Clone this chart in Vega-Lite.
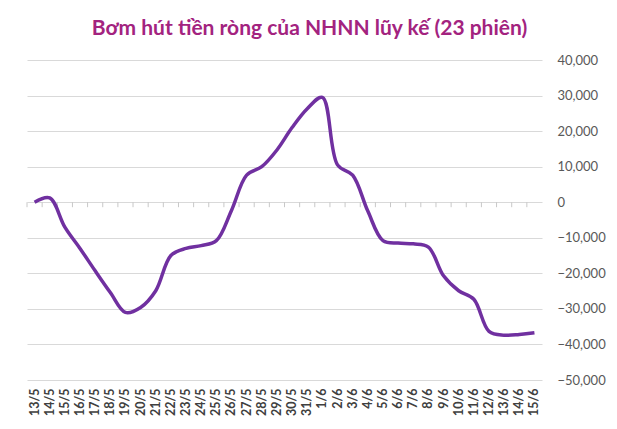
{
  "$schema": "https://vega.github.io/schema/vega-lite/v6.json",
  "width": 515,
  "height": 320,
  "autosize": "none",
  "padding": {"left": 27, "top": 60, "right": 75, "bottom": 49},
  "background": "white",
  "title": {
    "text": "Bơm hút tiền ròng của NHNN lũy kế (23 phiên)",
    "font": "Lato",
    "fontSize": 21,
    "fontWeight": "bold",
    "color": "#A3237F",
    "anchor": "middle",
    "frame": "group",
    "offset": -6,
    "baseline": "bottom",
    "dx": 25
  },
  "config": {"view": {"stroke": null}},
  "data": {
    "values": [
      {"d": "13/5", "v": 0},
      {"d": "14/5", "v": 1200},
      {"d": "15/5", "v": -7000},
      {"d": "16/5", "v": -13000},
      {"d": "17/5", "v": -19300},
      {"d": "18/5", "v": -25400},
      {"d": "19/5", "v": -31000},
      {"d": "20/5", "v": -29600},
      {"d": "21/5", "v": -24900},
      {"d": "22/5", "v": -15000},
      {"d": "23/5", "v": -13000},
      {"d": "24/5", "v": -12200},
      {"d": "25/5", "v": -10800},
      {"d": "26/5", "v": -2300},
      {"d": "27/5", "v": 7600},
      {"d": "28/5", "v": 10000},
      {"d": "29/5", "v": 14700},
      {"d": "30/5", "v": 21000},
      {"d": "31/5", "v": 26300},
      {"d": "1/6", "v": 29500},
      {"d": "2/6", "v": 10500},
      {"d": "3/6", "v": 7600},
      {"d": "4/6", "v": -2500},
      {"d": "5/6", "v": -10800},
      {"d": "6/6", "v": -11500},
      {"d": "7/6", "v": -11700},
      {"d": "8/6", "v": -12600},
      {"d": "9/6", "v": -20700},
      {"d": "10/6", "v": -24900},
      {"d": "11/6", "v": -27300},
      {"d": "12/6", "v": -36300},
      {"d": "13/6", "v": -37400},
      {"d": "14/6", "v": -37200},
      {"d": "15/6", "v": -36700}
    ]
  },
  "encoding": {
    "x": {
      "field": "d",
      "type": "nominal",
      "sort": null,
      "scale": {"type": "band", "paddingInner": 0, "paddingOuter": 0},
      "axis": {
        "orient": "bottom",
        "labelAngle": 270,
        "labelPadding": 8,
        "labelFont": "Lato",
        "labelFontWeight": "bold",
        "labelFontSize": 12.5,
        "labelColor": "#404040",
        "labelOverlap": false,
        "ticks": false,
        "domain": false,
        "grid": false,
        "title": null
      }
    },
    "y": {
      "field": "v",
      "type": "quantitative",
      "scale": {"domain": [-50000, 40000], "nice": false, "zero": false},
      "axis": {
        "orient": "right",
        "values": [-50000, -40000, -30000, -20000, -10000, 0, 10000, 20000, 30000, 40000],
        "format": ",.0f",
        "labelAlign": "left",
        "labelPadding": 15,
        "labelFont": "Lato",
        "labelFontSize": 13,
        "labelColor": "#595959",
        "ticks": false,
        "domain": false,
        "grid": true,
        "gridColor": "#d9d9d9",
        "gridWidth": 1,
        "title": null
      }
    }
  },
  "layer": [
    {
      "mark": {"type": "rule", "color": "#c8c8c8", "strokeWidth": 1},
      "encoding": {
        "x": {"field": "d", "type": "nominal", "sort": null, "bandPosition": 0},
        "y": {"datum": 0, "type": "quantitative"},
        "y2": {"datum": -1400}
      }
    },
    {
      "mark": {"type": "line", "interpolate": "catmull-rom", "color": "#7030A0", "strokeWidth": 3.5},
      "encoding": {}
    }
  ]
}
